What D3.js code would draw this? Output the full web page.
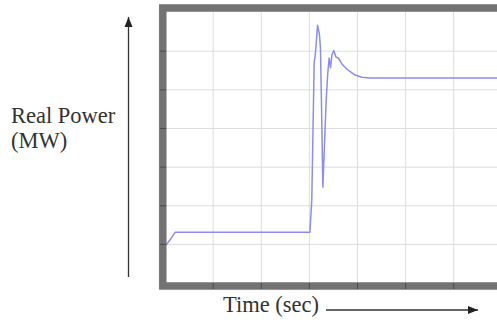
<!DOCTYPE html>
<html>
<head>
<meta charset="utf-8">
<script src="https://cdn.jsdelivr.net/npm/d3@7"></script>
<style>
  html, body { margin: 0; padding: 0; background: #fff; }
  svg { display: block; }
  .label { font-family: "Liberation Serif", "DejaVu Serif", serif; fill: #333; }
</style>
</head>
<body>
<svg id="chart"></svg>
<script>
// time in grid units (one grid division per unit), power in grid units
const timeValues = [0, 0.03, 0.11, 0.22, 3.02, 3.06, 3.11, 3.13, 3.15, 3.18, 3.20, 3.22, 3.24, 3.26, 3.29,
  3.32, 3.36, 3.39, 3.42, 3.45, 3.48, 3.52, 3.56, 3.61, 3.69, 3.81, 3.96, 4.10, 4.27, 7.2];
const powerValues = [0.95, 0.97, 1.10, 1.30, 1.30, 2.14, 5.71, 5.86, 6.14, 6.66, 6.54, 6.41, 6.07, 4.73, 2.47,
  3.43, 4.73, 5.37, 5.81, 5.56, 5.90, 6.00, 5.84, 5.81, 5.65, 5.50, 5.37, 5.31, 5.29, 5.29];
const gridTicks = [1, 2, 3, 4, 5, 6, 7];
const yLabelLines = ['Real Power', '(MW)'];
const xLabel = 'Time (sec)';

const W = 497, H = 335;
const svg = d3.select('#chart').attr('width', W).attr('height', H);

const xScale = d3.scaleLinear().domain([0, 7]).range([164.6, 501.3]);
const yScale = d3.scaleLinear().domain([0, 7]).range([282.6, 12]);
const plotW = 501.3 - 164.6 + 40;
const plotH = 282.6 - 12;

const data = timeValues.map((t, i) => ({ t: t, p: powerValues[i] }));

const defs = svg.append('defs');
defs.append('clipPath').attr('id', 'plot-clip')
    .append('rect').attr('x', 164.6).attr('y', 12).attr('width', plotW).attr('height', plotH);

// grid
const grid = svg.append('g');
grid.append('g')
    .attr('transform', `translate(0,${yScale(0)})`)
    .call(d3.axisBottom(xScale).tickValues(gridTicks).tickSize(-plotH).tickFormat(''))
    .call(g => g.select('.domain').remove())
    .call(g => g.selectAll('line').attr('stroke', '#dedede').attr('stroke-width', 1));
grid.append('g')
    .attr('transform', `translate(${xScale(0)},0)`)
    .call(d3.axisLeft(yScale).tickValues(gridTicks.slice(0, 6)).tickSize(-plotW).tickFormat(''))
    .call(g => g.select('.domain').remove())
    .call(g => g.selectAll('line').attr('stroke', '#dedede').attr('stroke-width', 1));

// signal
const line = d3.line().x(d => xScale(d.t)).y(d => yScale(d.p));
svg.append('path')
   .datum(data)
   .attr('clip-path', 'url(#plot-clip)')
   .attr('fill', 'none')
   .attr('stroke', '#8c8cf2')
   .attr('stroke-width', 1.5)
   .attr('stroke-linejoin', 'round')
   .attr('d', line);

// scope frame
svg.append('rect')
   .attr('x', 162.8).attr('y', 8).attr('width', 400).attr('height', 278)
   .attr('fill', 'none')
   .attr('stroke', '#737373')
   .attr('stroke-width', 7.5);

// small tick marks on the frame
svg.append('g')
   .attr('transform', `translate(0,289)`)
   .call(d3.axisTop(xScale).tickValues(gridTicks).tickSize(6).tickFormat(''))
   .call(g => g.select('.domain').remove())
   .call(g => g.selectAll('line').attr('stroke', '#4a4a4a'));
svg.append('g')
   .attr('transform', `translate(160,0)`)
   .call(d3.axisRight(yScale).tickValues(gridTicks.slice(0, 6)).tickSize(6).tickFormat(''))
   .call(g => g.select('.domain').remove())
   .call(g => g.selectAll('line').attr('stroke', '#4a4a4a'));

// arrows
defs.append('marker')
    .attr('id', 'arrow')
    .attr('viewBox', '0 0 10 10')
    .attr('refX', 10).attr('refY', 5)
    .attr('markerWidth', 10).attr('markerHeight', 10)
    .attr('markerUnits', 'userSpaceOnUse')
    .attr('orient', 'auto')
    .append('path').attr('d', 'M0,1 L10,5 L0,9 Z').attr('fill', '#222');

svg.append('line')
   .attr('x1', 128.5).attr('y1', 277).attr('x2', 128.5).attr('y2', 17)
   .attr('stroke', '#333').attr('stroke-width', 1.3)
   .attr('marker-end', 'url(#arrow)');
svg.append('line')
   .attr('x1', 326).attr('y1', 310).attr('x2', 478).attr('y2', 310)
   .attr('stroke', '#333').attr('stroke-width', 1.3)
   .attr('marker-end', 'url(#arrow)');

// labels
svg.selectAll('.ylab')
   .data(yLabelLines)
   .enter().append('text')
   .attr('class', 'label ylab')
   .attr('x', 11)
   .attr('y', (d, i) => 123 + i * 25)
   .style('font-size', '22.5px')
   .text(d => d);

svg.append('text')
   .attr('class', 'label')
   .attr('x', 223).attr('y', 312)
   .style('font-size', '22.5px')
   .text(xLabel);
</script>
</body>
</html>
